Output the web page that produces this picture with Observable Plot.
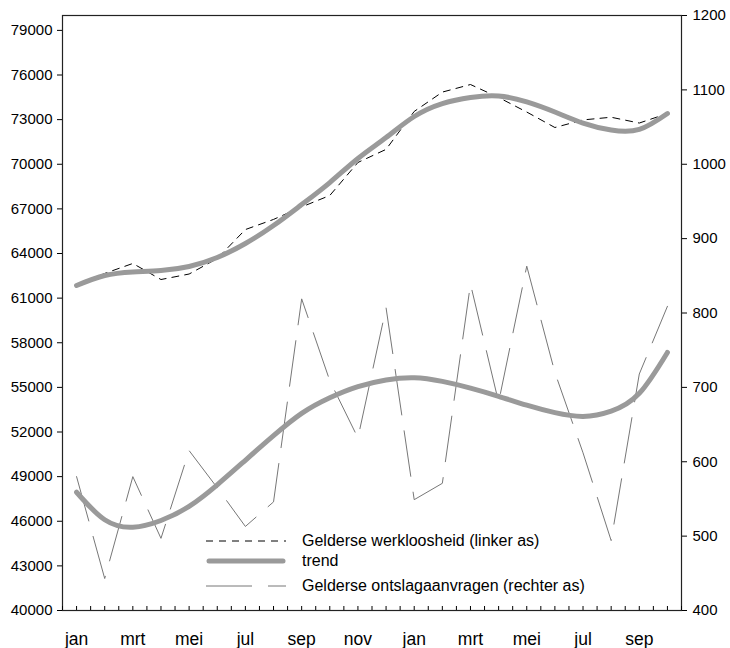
<!DOCTYPE html>
<html>
<head>
<meta charset="utf-8">
<script src="https://cdn.jsdelivr.net/npm/d3@7"></script>
<script src="https://cdn.jsdelivr.net/npm/@observablehq/plot@0.6"></script>
<style>
  html, body { margin: 0; padding: 0; background: #fff; }
  body { font-family: "Liberation Sans", Arial, Helvetica, sans-serif; }
  #wrap { position: relative; width: 730px; height: 648px; overflow: hidden; }
  .lg { position: absolute; left: 206px; display: flex; align-items: center; font-size: 16px; color: #000; white-space: nowrap; }
  .lg svg { margin-right: 16px; }
</style>
</head>
<body>
<div id="wrap"><div id="chart"></div></div>
<script>
// Periods: jan (year 1) .. okt (year 2)
const periodLabels = ["jan","feb","mrt","apr","mei","jun","jul","aug","sep","okt","nov","dec",
                      "jan","feb","mrt","apr","mei","jun","jul","aug","sep","okt"];
// Gelderse werkloosheid (left axis)
const werkloosheid = [61850, 62660, 63330, 62250, 62620, 63660, 65610, 66290, 67130, 67900, 70120,
                      71000, 73550, 74850, 75360, 74490, 73510, 72470, 72980, 73160, 72770, 73410];
const werkloosheidTrend = [61850, 62520, 62760, 62860, 63130, 63730, 64670, 65880, 67290, 68770, 70390,
                           71800, 73210, 74080, 74490, 74590, 74190, 73510, 72770, 72300, 72340, 73410];
// Gelderse ontslagaanvragen (right axis)
const ontslagaanvragen = [580, 443, 580, 497, 615, 565, 513, 546, 819, 709, 632,
                          807, 549, 571, 839, 680, 863, 720, 612, 494, 718, 809];
const ontslagTrend = [559, 522, 512, 521, 540, 569, 602, 635, 665, 686, 701,
                      710, 713, 708, 699, 688, 676, 666, 661, 668, 692, 747];
// Axis ticks
const leftTicks = [40000, 43000, 46000, 49000, 52000, 55000, 58000, 61000, 64000, 67000, 70000, 73000, 76000, 79000];
const rightTicks = [400, 500, 600, 700, 800, 900, 1000, 1100, 1200];
const leftDomain = [40000, 80000];
const rightDomain = [400, 1200];

// map right-axis values onto the left scale
const toLeft = v => leftDomain[0] + (v - rightDomain[0]) * (leftDomain[1] - leftDomain[0]) / (rightDomain[1] - rightDomain[0]);
const fromLeft = v => Math.round(rightDomain[0] + (v - leftDomain[0]) * (rightDomain[1] - rightDomain[0]) / (leftDomain[1] - leftDomain[0]));

const idx = periodLabels.map((_, i) => i);
const werkData = idx.map(i => ({i, v: werkloosheid[i]}));
const werkTrendData = idx.map(i => ({i, v: werkloosheidTrend[i]}));
const ontData = idx.map(i => ({i, v: ontslagaanvragen[i]}));
const ontTrendData = idx.map(i => ({i, v: ontslagTrend[i]}));
const labelIdx = idx.filter(i => i % 2 === 0);
const halfTicks = d3.range(-0.5, periodLabels.length - 0.5 + 0.01, 0.5);

const TREND = "#9a9a9a";
const chart = Plot.plot({
  width: 730,
  height: 648,
  marginLeft: 62,
  marginRight: 49,
  marginTop: 15,
  marginBottom: 38,
  x: {domain: [-0.5, periodLabels.length - 0.5], axis: null},
  y: {domain: leftDomain, axis: null},
  style: {fontFamily: "'Liberation Sans', Arial, Helvetica, sans-serif", color: "#000", background: "#fff"},
  marks: [
    Plot.line(ontData, {x: "i", y: d => toLeft(d.v), stroke: "#777", strokeWidth: 1, strokeDasharray: "46,16"}),
    Plot.line(werkData, {x: "i", y: "v", stroke: "#000", strokeWidth: 1, strokeDasharray: "7,6"}),
    Plot.line(werkTrendData, {x: "i", y: "v", stroke: TREND, strokeWidth: 5, curve: "natural", strokeLinecap: "round"}),
    Plot.line(ontTrendData, {x: "i", y: d => toLeft(d.v), stroke: TREND, strokeWidth: 5, curve: "natural", strokeLinecap: "round"}),
    Plot.frame({stroke: "#222", strokeWidth: 1.2}),
    Plot.tickX(halfTicks, {x: d => d, insetTop: 648 - 15 - 38 - 4, stroke: "#000"}),
    Plot.axisY(leftTicks, {anchor: "left", tickSize: 5, tickPadding: 5, fontSize: 15, label: null, tickFormat: d => String(d)}),
    Plot.axisY(rightTicks.map(toLeft), {anchor: "right", tickSize: 5, tickPadding: 6, fontSize: 15, label: null, tickFormat: d => String(fromLeft(d))}),
    Plot.axisX(labelIdx, {anchor: "bottom", tickSize: 0, tickPadding: 22, fontSize: 17.5, label: null, tickFormat: i => periodLabels[i]})
  ]
});
const wrap = document.getElementById("wrap");
document.getElementById("chart").appendChild(chart);

// Legend (inside plot area, bottom)
const legendItems = [
  {label: "Gelderse werkloosheid (linker as)", stroke: "#000", width: 1, dash: "7,6", top: 541},
  {label: "trend", stroke: TREND, width: 5, dash: null, top: 561},
  {label: "Gelderse ontslagaanvragen (rechter as)", stroke: "#777", width: 1, dash: "46,16", top: 586}
];
for (const it of legendItems) {
  const row = document.createElement("div");
  row.className = "lg";
  row.style.top = (it.top - 10) + "px";
  row.style.height = "20px";
  row.innerHTML = `<svg width="80" height="20"><line x1="${it.width > 2 ? 3 : 0}" x2="${it.width > 2 ? 77 : 80}" y1="10" y2="10" stroke="${it.stroke}" stroke-width="${it.width}" stroke-linecap="${it.width > 2 ? "round" : "butt"}" ${it.dash ? `stroke-dasharray="${it.dash}"` : ""}/></svg><span>${it.label}</span>`;
  wrap.appendChild(row);
}
</script>
</body>
</html>
